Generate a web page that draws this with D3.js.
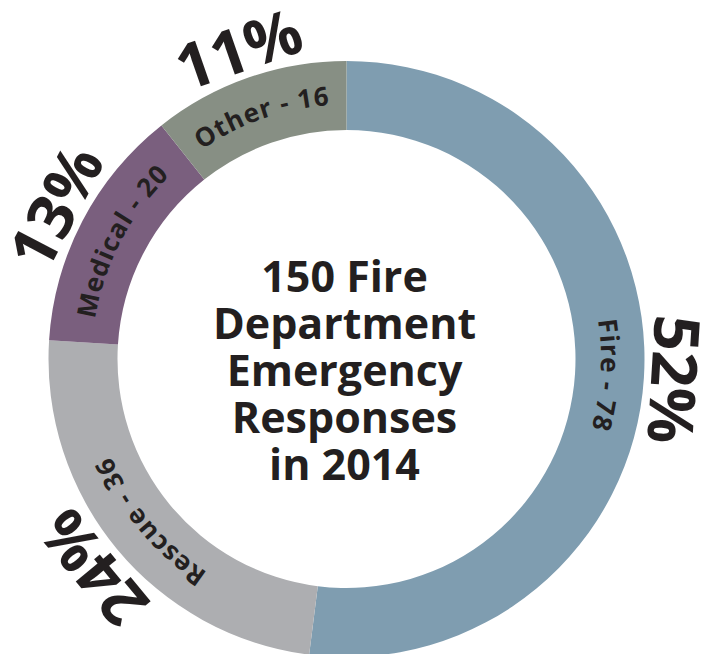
<!DOCTYPE html>
<html>
<head>
<meta charset="utf-8">
<script src="https://cdn.jsdelivr.net/npm/d3@7"></script>
<style>
    body { margin: 0; background: #fff; }
    svg { display: block; }
    .center-title { font-family: "Open Sans", sans-serif; font-weight: 700; font-size: 43px; fill: #231f20; text-anchor: middle; }
    .pct { font-family: "Open Sans", sans-serif; font-weight: 700; font-size: 63px; fill: #231f20; text-anchor: middle; }
    .slice-label { font-family: "Open Sans", sans-serif; font-weight: 700; font-size: 26px; fill: #231f20; letter-spacing: 1px; }
</style>
</head>
<body>
<div id="chart"></div>
<script>
// Data
const categories = ["Fire", "Rescue", "Medical", "Other"];
const counts = [78, 36, 20, 16];
const colors = ["#7f9db0", "#adaeb1", "#7a5f7e", "#878f84"];
const titleLines = ["150 Fire", "Department", "Emergency", "Responses", "in 2014"];

const width = 715;
const height = 654;
const cx = 346.5;
const cy = 359;
const outerR = 298;
const innerR = 229;

/**
 * Builds a clockwise arc path (relative to the centre) for text to follow.
 */
function arcPath(r, a0, a1) {
    const x0 = r * Math.sin(a0), y0 = -r * Math.cos(a0);
    const x1 = r * Math.sin(a1), y1 = -r * Math.cos(a1);
    const large = (a1 - a0) > Math.PI ? 1 : 0;
    return `M${x0},${y0} A${r},${r} 0 ${large} 1 ${x1},${y1}`;
}

function drawChart() {
    const total = d3.sum(counts);
    const data = categories.map((c, i) => ({ name: c, value: counts[i], color: colors[i] }));

    const svg = d3.select("#chart").append("svg")
        .attr("width", width)
        .attr("height", height);

    const g = svg.append("g").attr("transform", `translate(${cx},${cy})`);

    const pie = d3.pie().sort(null).value(d => d.value);
    const arc = d3.arc().innerRadius(innerR).outerRadius(outerR);
    const arcs = pie(data);

    // Ring slices
    g.selectAll(".slice")
        .data(arcs)
        .join("path")
        .attr("class", "slice")
        .attr("d", arc)
        .attr("fill", d => d.data.color);

    // Curved labels inside the ring
    const textR = (innerR + outerR) / 2 - 9;
    const defs = svg.append("defs");
    defs.selectAll("path")
        .data(arcs)
        .join("path")
        .attr("id", (d, i) => "lbl" + i)
        .attr("d", d => arcPath(textR, d.startAngle, d.endAngle));

    g.selectAll(".slice-label")
        .data(arcs)
        .join("text")
        .attr("class", "slice-label")
        .append("textPath")
        .attr("href", (d, i) => "#lbl" + i)
        .attr("startOffset", "50%")
        .attr("text-anchor", "middle")
        .text(d => `${d.data.name} - ${d.data.value}`);

    // Percentages outside the ring, rotated with the slice
    const pctR = 328;
    g.selectAll(".pct")
        .data(arcs)
        .join("text")
        .attr("class", "pct")
        .attr("transform", d => {
            const a = (d.startAngle + d.endAngle) / 2;
            const x = pctR * Math.sin(a), y = -pctR * Math.cos(a);
            return `translate(${x},${y}) rotate(${a * 180 / Math.PI})`;
        })
        .attr("dy", "0.36em")
        .text(d => Math.round(d.value / total * 100) + "%");

    // Centre title
    const baseY = -67.5;
    const lineH = 47;
    g.selectAll(".center-title")
        .data(titleLines)
        .join("text")
        .attr("class", "center-title")
        .attr("x", -2)
        .attr("y", (d, i) => baseY + i * lineH)
        .text(d => d);
}

drawChart();
</script>
</body>
</html>
